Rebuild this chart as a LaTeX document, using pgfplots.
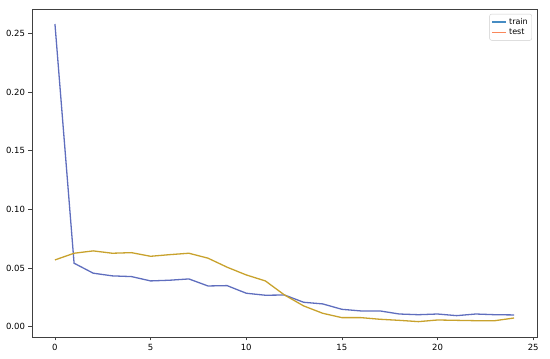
\documentclass[border=0pt]{standalone}
\usepackage{fontspec}
\setmainfont{DejaVu Sans}
\usepackage{pgfplots}
\pgfplotsset{compat=1.18}
\definecolor{trainline}{RGB}{95,110,190}
\definecolor{testline}{RGB}{200,162,45}
\definecolor{trainkey}{RGB}{70,140,195}
\definecolor{testkey}{RGB}{250,135,90}

\begin{document}
\begin{tikzpicture}[x=1pt,y=1pt]
\useasboundingbox (-32,-22) rectangle (518,337);
\begin{axis}[
 at={(0,0)},anchor=south west,
 scale only axis,width=505pt,height=328pt,
 xmin=-1.2,xmax=25.2,ymin=-0.0088,ymax=0.2708,
 xtick={0,5,10,15,20,25},
 ytick={0,0.05,0.10,0.15,0.20,0.25},
 yticklabel style={/pgf/number format/.cd,fixed,fixed zerofill,precision=2},
 scaled y ticks=false,
 tick label style={font=\fontsize{8.5}{10}\selectfont},
 /pgf/number format/assume math mode=true,
 tick align=outside,major tick length=3.5pt,
 xtick pos=bottom,ytick pos=left,
 axis line style={black!75,line width=0.7pt},
 every tick/.style={black!75,line width=0.6pt},
 legend style={at={(0.99,0.985)},anchor=north east,draw=black!20,rounded corners=2pt,
   font=\fontsize{8}{9}\selectfont,inner sep=2pt,row sep=-0.5pt},
 legend cell align=left,
 every axis plot/.append style={line width=1.3pt},
]
\addplot[trainline,legend image code/.code={\draw[trainkey,line width=1.3pt] (0cm,0cm) -- (0.5cm,0cm);}] coordinates {
(0,0.258) (1,0.0541) (2,0.0456) (3,0.0433) (4,0.0427) (5,0.0390) (6,0.0396) (7,0.0407)
(8,0.0347) (9,0.0350) (10,0.0285) (11,0.0268) (12,0.0270) (13,0.0208) (14,0.0194)
(15,0.0148) (16,0.0134) (17,0.0134) (18,0.0108) (19,0.0102) (20,0.0108) (21,0.0094)
(22,0.0108) (23,0.0102) (24,0.0100)};
\addlegendentry{train}
\addplot[testline,legend image code/.code={\draw[testkey,line width=1.3pt] (0cm,0cm) -- (0.5cm,0cm);}] coordinates {
(0,0.0569) (1,0.0626) (2,0.0646) (3,0.0626) (4,0.0631) (5,0.0600) (6,0.0614) (7,0.0626)
(8,0.0584) (9,0.0507) (10,0.0441) (11,0.0390) (12,0.0270) (13,0.0177) (14,0.0114)
(15,0.0077) (16,0.0077) (17,0.0063) (18,0.0054) (19,0.0043) (20,0.0057) (21,0.0054)
(22,0.0051) (23,0.0051) (24,0.0074)};
\addlegendentry{test}
\end{axis}
\end{tikzpicture}
\end{document}
